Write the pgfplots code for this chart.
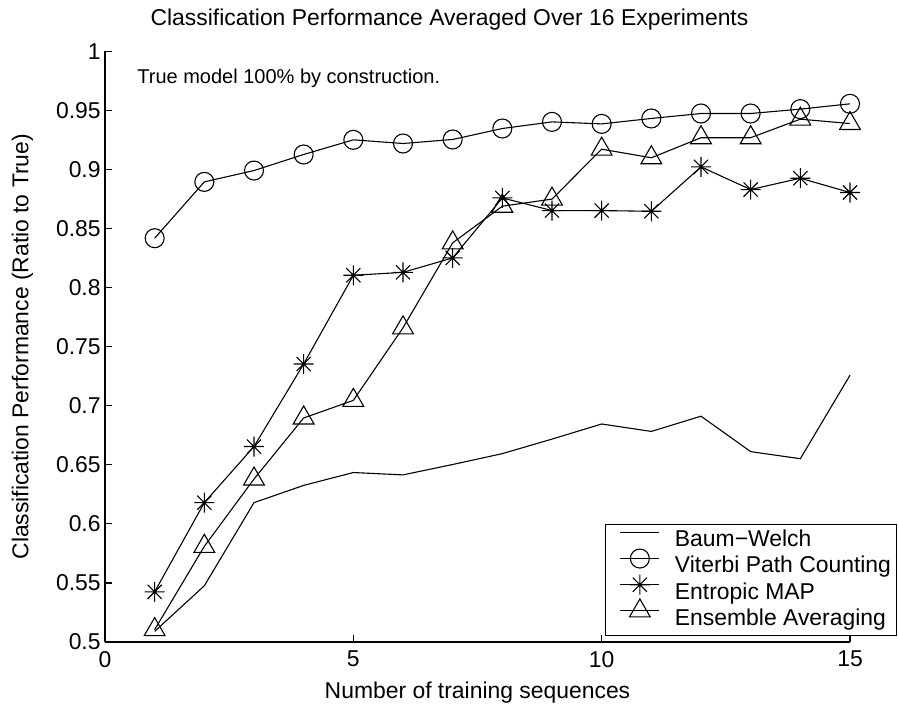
\documentclass[border=0pt]{standalone}
\usepackage{pgfplots}
\pgfplotsset{compat=1.18}
\usepackage{fontspec}
\setmainfont{Liberation Sans}

\pgfdeclareplotmark{mstar}{%
  \pgfpathmoveto{\pgfqpoint{0pt}{\pgfplotmarksize}}%
  \pgfpathlineto{\pgfqpoint{0pt}{-\pgfplotmarksize}}%
  \pgfpathmoveto{\pgfqpoint{\pgfplotmarksize}{0pt}}%
  \pgfpathlineto{\pgfqpoint{-\pgfplotmarksize}{0pt}}%
  \pgfpathmoveto{\pgfqpoint{0.707\pgfplotmarksize}{0.707\pgfplotmarksize}}%
  \pgfpathlineto{\pgfqpoint{-0.707\pgfplotmarksize}{-0.707\pgfplotmarksize}}%
  \pgfpathmoveto{\pgfqpoint{-0.707\pgfplotmarksize}{0.707\pgfplotmarksize}}%
  \pgfpathlineto{\pgfqpoint{0.707\pgfplotmarksize}{-0.707\pgfplotmarksize}}%
  \pgfusepathqstroke}

\pgfplotstableread{
x bw vit ent ens
1  0.5090 0.8419 0.5425 0.5105
2  0.5476 0.8896 0.6180 0.5810
3  0.6180 0.8992 0.6655 0.6380
4  0.6326 0.9128 0.7354 0.6897
5  0.6435 0.9252 0.8105 0.7046
6  0.6415 0.9221 0.8130 0.7660
7  0.6503 0.9255 0.8252 0.8380
8  0.6595 0.9348 0.8760 0.8690
9  0.6718 0.9404 0.8653 0.8750
10 0.6846 0.9387 0.8653 0.9173
11 0.6783 0.9433 0.8647 0.9100
12 0.6912 0.9475 0.9023 0.9270
13 0.6612 0.9475 0.8831 0.9270
14 0.6552 0.9512 0.8927 0.9427
15 0.7259 0.9557 0.8806 0.9390
}\datatable

\begin{document}
\fontsize{11.45bp}{13.7bp}\selectfont
\begin{tikzpicture}
\begin{axis}[
  scale only axis,
  width=372.5bp, height=295.25bp,
  xmin=0, xmax=15, ymin=0.5, ymax=1,
  axis x line=bottom, axis y line=left,
  axis line style={-, line width=0.55bp},
  every outer x axis line/.append style={-},
  every outer y axis line/.append style={-},
  tick align=inside,
  major tick length=3.5bp,
  tick style={black, line width=0.55bp},
  xtick={0,5,10,15},
  xticklabels={0,5,10,15},
  ytick={0.5,0.55,0.6,0.65,0.7,0.75,0.8,0.85,0.9,0.95,1},
  yticklabels={0.5,0.55,0.6,0.65,0.7,0.75,0.8,0.85,0.9,0.95,1},
  /pgf/number format/assume math mode=true,
  tick label style={font=\fontsize{11.45bp}{13.7bp}\selectfont},
  yticklabel style={inner xsep=2bp},
  xticklabel style={inner ysep=4.4bp},
  label style={font=\fontsize{11.45bp}{13.7bp}\selectfont},
  title={Classification Performance Averaged Over 16 Experiments},
  every axis title/.style={at={(axis description cs:0.4624,1)}, anchor=base, yshift=13bp,
    font=\fontsize{11.45bp}{13.7bp}\selectfont},
  xlabel={Number of training sequences},
  xlabel style={at={(axis description cs:0.5,0)}, anchor=base, yshift=-28bp},
  ylabel={Classification Performance (Ratio to True)},
  ylabel style={at={(axis description cs:-0.1027,0.5)}, anchor=base, rotate=0},
  clip=false,
  legend image code/.code={%
    \path[draw=none,fill=none] (0bp,4.1bp) -- (24.25bp,4.1bp);
    \draw[overlay,mark repeat=2,mark phase=2,#1] plot coordinates {(4.85bp,4.1bp) (14.55bp,4.1bp) (24.25bp,4.1bp)};},
  legend style={at={(1.0627,0.0107)}, anchor=south east, draw=black,
    line width=0.55bp, inner xsep=2.6bp, inner ysep=2.5bp,
    font=\fontsize{11.45bp}{13.7bp}\selectfont,
    nodes={inner sep=0pt, text height=8.6bp, text depth=2.4bp},
    row sep=2.1bp, column sep=7.85bp},
  legend cell align=left,
  every axis plot/.append style={black, line width=0.55bp, mark options={solid}},
]
\addplot[no marks] table[x=x,y=bw] {\datatable};
\addlegendentry{Baum−Welch}
\addplot[mark=o, mark size=4.75bp] table[x=x,y=vit] {\datatable};
\addlegendentry{Viterbi Path Counting}
\addplot[mark=mstar, mark size=5bp] table[x=x,y=ent] {\datatable};
\addlegendentry{Entropic MAP}
\addplot[mark=triangle, mark size=6bp] table[x=x,y=ens] {\datatable};
\addlegendentry{Ensemble Averaging}
\node[anchor=base west, inner sep=0pt, font=\fontsize{10bp}{12bp}\selectfont] at (axis cs:0.644,0.973) {True model 100\% by construction.};
\end{axis}
\pgfresetboundingbox
\path[use as bounding box] ([xshift=-52.5bp,yshift=-32bp]current axis.south west) rectangle ([xshift=24.5bp,yshift=25.75bp]current axis.north east);
\end{tikzpicture}
\end{document}
